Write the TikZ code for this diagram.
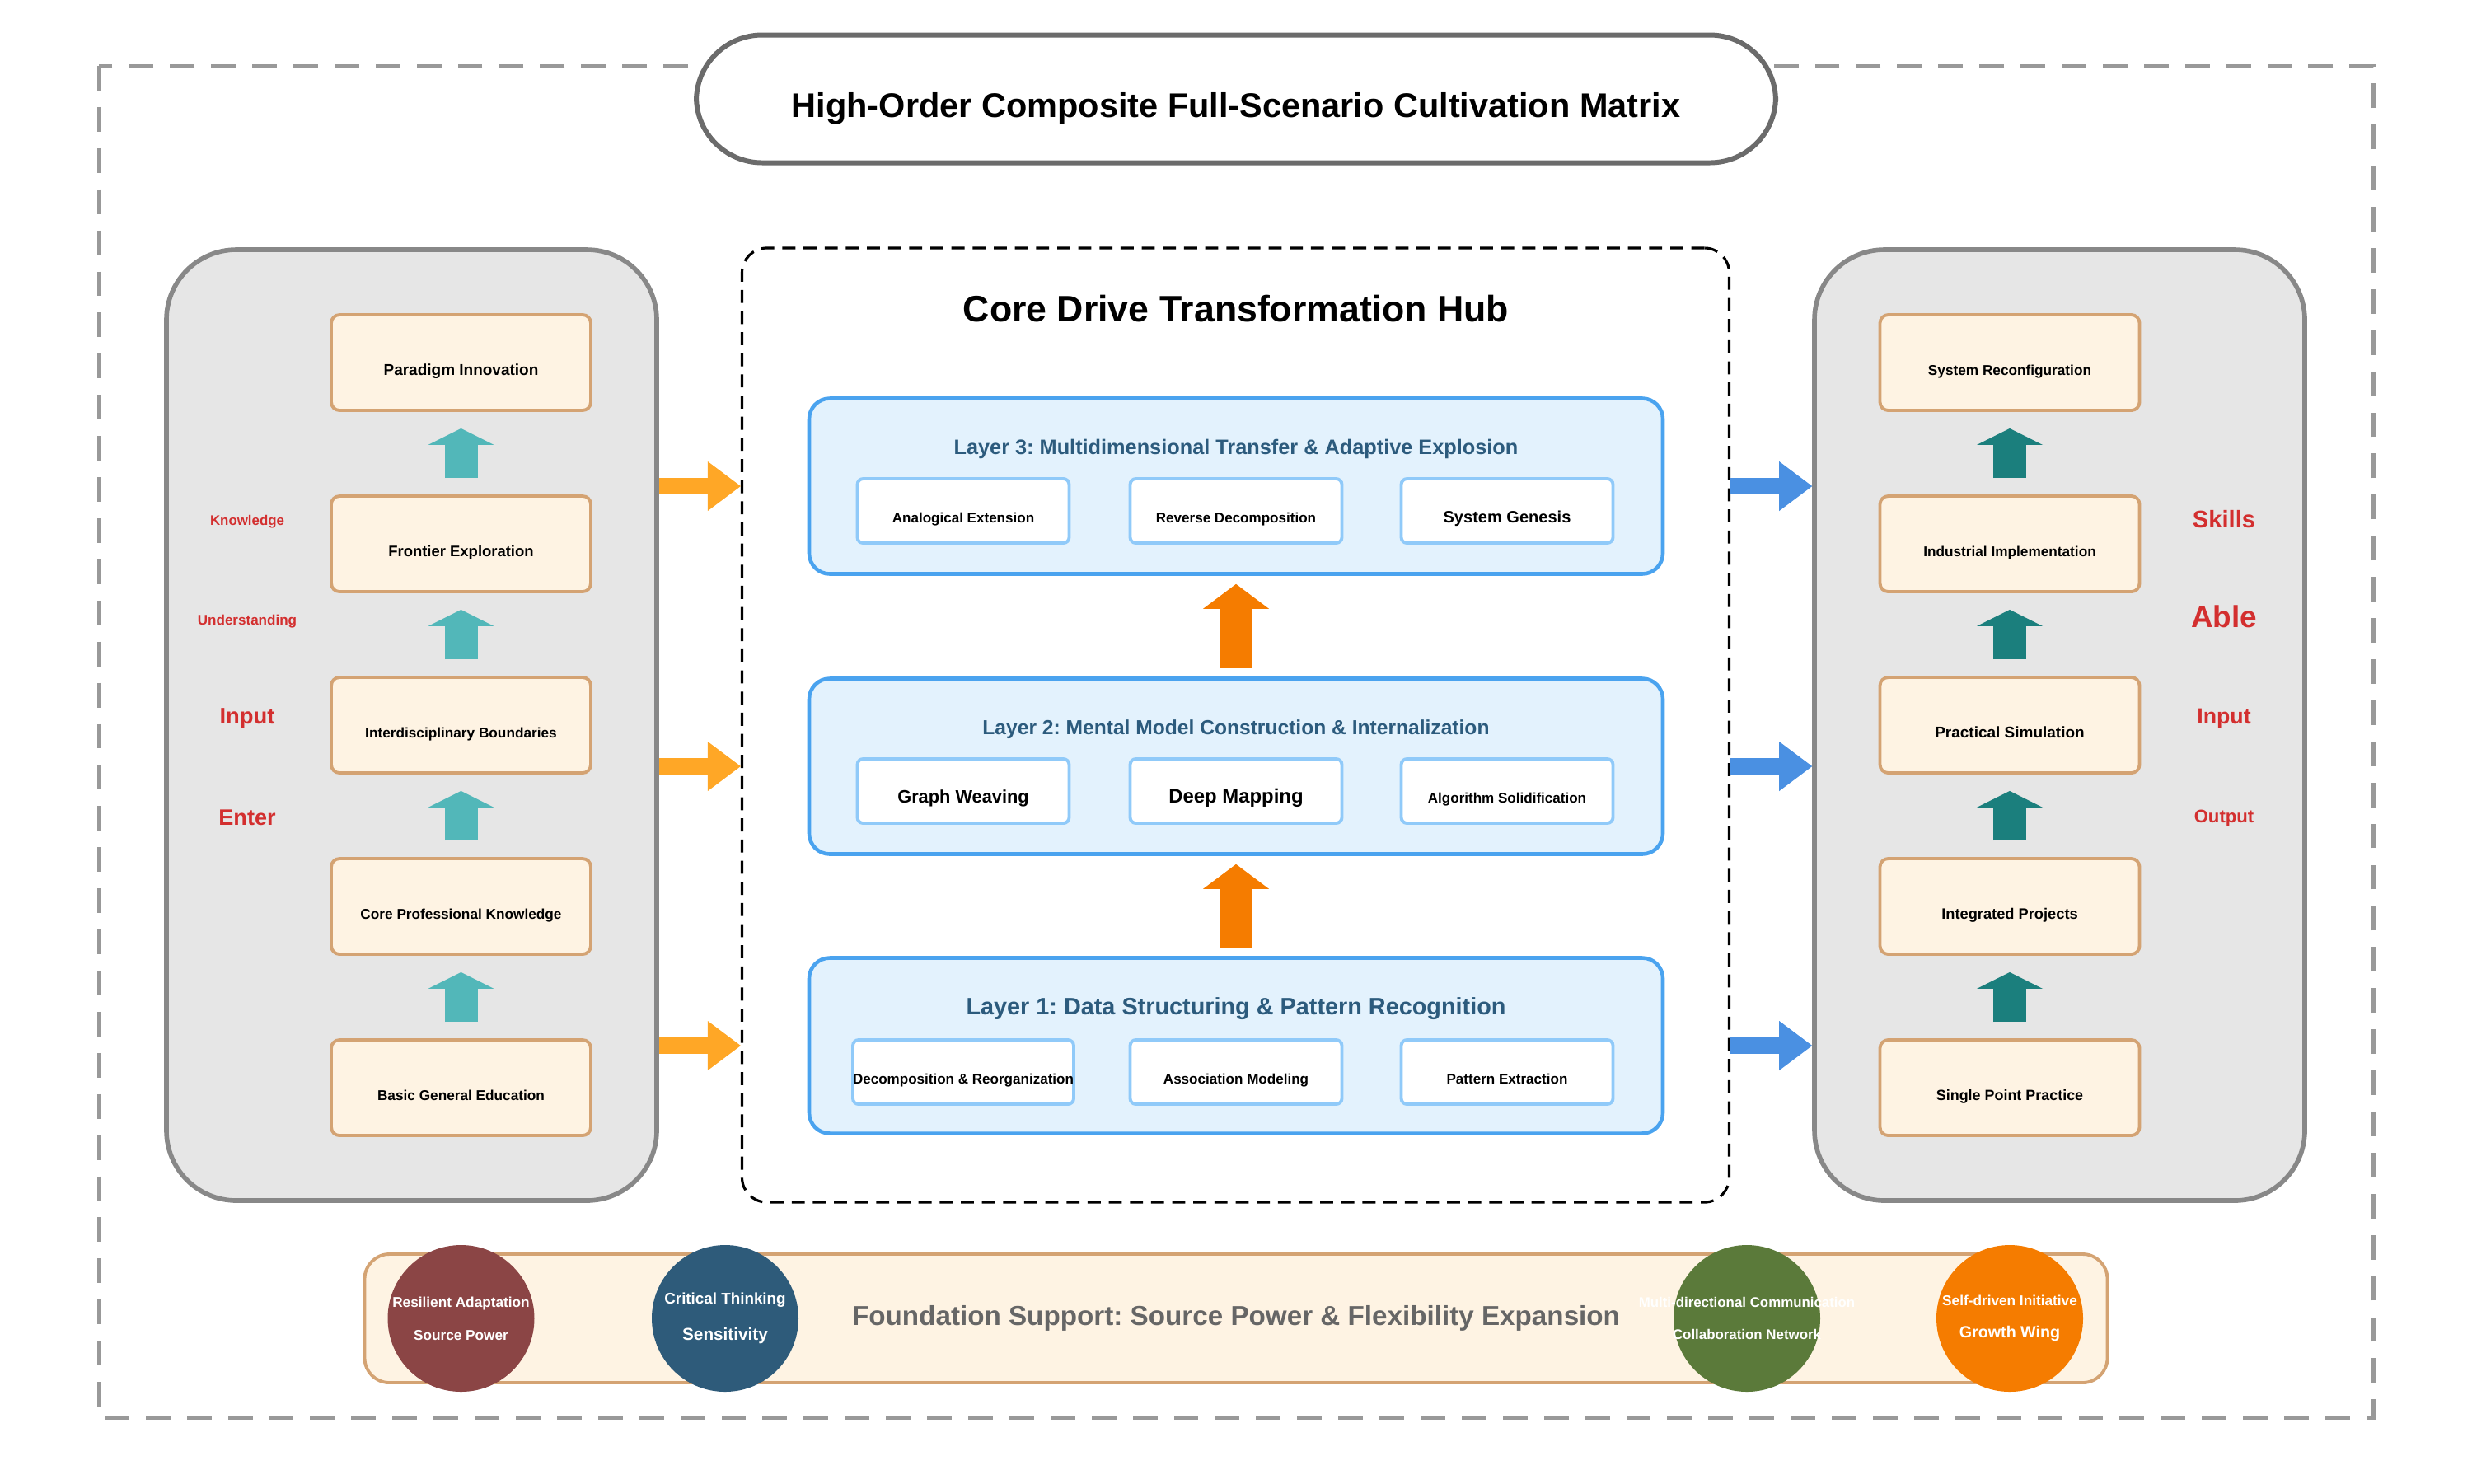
\documentclass[tikz,border=0pt]{standalone}
\usepackage{fontspec}
\setmainfont{Liberation Sans}
\usetikzlibrary{arrows.meta}
\frenchspacing

\definecolor{framegray}{HTML}{999999}
\definecolor{titlegray}{HTML}{6B6B6B}
\definecolor{panelgray}{HTML}{E6E6E6}
\definecolor{panelline}{HTML}{888888}
\definecolor{stagefill}{HTML}{FEF3E3}
\definecolor{stageline}{HTML}{D4A373}
\definecolor{layerfill}{HTML}{E3F2FD}
\definecolor{layerline}{HTML}{4AA3EF}
\definecolor{subline}{HTML}{90CAF9}
\definecolor{layertext}{HTML}{2C5B7D}
\definecolor{tagred}{HTML}{D32F2F}
\definecolor{teallight}{HTML}{52B7B9}
\definecolor{tealdark}{HTML}{1B7F7D}
\definecolor{hubarrow}{HTML}{F57C00}
\definecolor{feedorange}{HTML}{FFA726}
\definecolor{feedblue}{HTML}{4A90E2}
\definecolor{basetext}{HTML}{666666}
\definecolor{maroon}{HTML}{8B4545}
\definecolor{navy}{HTML}{2E5B7A}
\definecolor{olive}{HTML}{5B7A3A}
\definecolor{ember}{HTML}{F57C00}

\newcommand{\fsz}[1]{\fontsize{#1}{#1}\selectfont\bfseries}

\begin{document}
\begin{tikzpicture}[
  frame/.style={draw=framegray, line width=1.4pt, dash pattern=on 8.5pt off 5.7pt},
  titlebox/.style={draw=titlegray, line width=1.7pt, fill=white, rounded corners=0.8cm, minimum width=13.1cm, minimum height=1.55cm, inner sep=0pt, text height=13pt, text depth=0pt, font={\fsz{11.8}}},
  panel/.style={draw=panelline, line width=1.6pt, fill=panelgray, rounded corners=0.85cm, minimum width=5.95cm, minimum height=11.54cm},
  hub/.style={draw=black, line width=0.9pt, dash pattern=on 4.5pt off 2.8pt, rounded corners=0.3cm, minimum width=11.98cm, minimum height=11.58cm},
  stage/.style={draw=stageline, line width=1.1pt, fill=stagefill, rounded corners=0.1cm, minimum width=3.15cm, minimum height=1.16cm, inner sep=0pt, text height=9pt, text depth=0pt, font={\fsz{4.9}}},
  layer/.style={draw=layerline, line width=1.3pt, fill=layerfill, rounded corners=0.25cm, minimum width=10.36cm, minimum height=2.13cm},
  layertitle/.style={text=layertext, inner sep=0pt},
  sub/.style={draw=subline, line width=1.1pt, fill=white, rounded corners=0.07cm, minimum width=2.57cm, minimum height=0.78cm, inner sep=0pt, text height=8pt, text depth=0pt, font={\fsz{4.85}}},
  tag/.style={text=tagred, inner sep=0pt},
  base/.style={draw=stageline, line width=1.1pt, fill=stagefill, rounded corners=0.3cm, minimum width=21.15cm, minimum height=1.56cm, inner sep=0pt},
  trait/.style={circle, minimum size=1.78cm, inner sep=0pt, text=white, align=center, font={\fsz{4.9}}},
  stepup/.style={line width=0.4cm, -{Triangle[length=0.2cm, width=0.8cm, line width=0pt]}, shorten <=0.2cm, shorten >=0.2cm},
  layerup/.style={line width=0.4cm, color=hubarrow, -{Triangle[length=0.3cm, width=0.8cm, line width=0pt]}, shorten <=0.1cm, shorten >=0.1cm},
  feed/.style={line width=0.2cm, -{Triangle[length=0.4cm, width=0.6cm, line width=0pt]}}
]
\useasboundingbox (0,0) rectangle (30,-18);

% ==================== FRAME & TITLE ====================
\draw[frame] (1.2,-0.8) rectangle (28.8,-17.2);
\node[titlebox] (title) at (15,-1.2) {High-Order Composite Full-Scenario Cultivation Matrix};

% ==================== LEFT: Knowledge Ladder ====================
\node[panel] (lpanel) at (4.995,-8.8) {};

\node[stage] (l1) at (5.595,-13.2) {Basic General Education};
\node[stage] (l2) at (5.595,-11.0) {Core Professional Knowledge};
\node[stage] (l3) at (5.595,-8.8) {Interdisciplinary Boundaries};
\node[stage, font={\fsz{5.25}}] (l4) at (5.595,-6.6) {Frontier Exploration};
\node[stage, font={\fsz{5.4}}] (l5) at (5.595,-4.4) {Paradigm Innovation};

\foreach \a/\b in {1/2,2/3,3/4,4/5}
  \draw[stepup, color=teallight] (l\a.north) -- (l\b.south);

\node[tag, font={\fsz{4.8}}] (lt1) at (3.0,-6.33) {Knowledge};
\node[tag, font={\fsz{4.85}}] (lt2) at (3.0,-7.54) {Understanding};
\node[tag, font={\fsz{7.8}}] (lt3) at (3.0,-8.72) {Input};
\node[tag, font={\fsz{7.7}}] (lt4) at (3.0,-9.92) {Enter};

% ==================== CENTER: Core Drive Hub ====================
\node[hub] (hub) at (14.995,-8.8) {};
\node[font={\fsz{12.7}}, inner sep=0pt] (hubtitle) at (15,-3.75) {Core Drive Transformation Hub};

\node[layer] (lay3) at (15,-5.9) {};
\node[layertitle, font={\fsz{7.2}}] (lay3t) at (15,-5.45) {Layer 3: Multidimensional Transfer \& Adaptive Explosion};
\node[sub] (s31) at (11.69,-6.2) {Analogical Extension};
\node[sub] (s32) at (15.0,-6.2) {Reverse Decomposition};
\node[sub, font={\fsz{5.7}}] (s33) at (18.29,-6.2) {System Genesis};

\node[layer] (lay2) at (15,-9.3) {};
\node[layertitle, font={\fsz{7.0}}] (lay2t) at (15,-8.85) {Layer 2: Mental Model Construction \& Internalization};
\node[sub, font={\fsz{6.2}}] (s21) at (11.69,-9.6) {Graph Weaving};
\node[sub, font={\fsz{6.8}}] (s22) at (15.0,-9.6) {Deep Mapping};
\node[sub] (s23) at (18.29,-9.6) {Algorithm Solidification};

\node[layer] (lay1) at (15,-12.69) {};
\node[layertitle, font={\fsz{8.2}}] (lay1t) at (15,-12.24) {Layer 1: Data Structuring \& Pattern Recognition};
\node[sub] (s11) at (11.69,-13.01) {Decomposition \& Reorganization};
\node[sub] (s12) at (15.0,-13.01) {Association Modeling};
\node[sub] (s13) at (18.29,-13.01) {Pattern Extraction};

\draw[layerup] (lay1.north) -- (lay2.south);
\draw[layerup] (lay2.north) -- (lay3.south);

% ==================== RIGHT: Skills Ladder ====================
\node[panel] (rpanel) at (24.995,-8.8) {};

\node[stage, font={\fsz{5.1}}] (r1) at (24.39,-13.2) {Single Point Practice};
\node[stage, font={\fsz{5.2}}] (r2) at (24.39,-11.0) {Integrated Projects};
\node[stage, font={\fsz{5.4}}] (r3) at (24.39,-8.8) {Practical Simulation};
\node[stage] (r4) at (24.39,-6.6) {Industrial Implementation};
\node[stage] (r5) at (24.39,-4.4) {System Reconfiguration};

\foreach \a/\b in {1/2,2/3,3/4,4/5}
  \draw[stepup, color=tealdark] (r\a.north) -- (r\b.south);

\node[tag, font={\fsz{8.3}}] (rt1) at (26.99,-6.3) {Skills};
\node[tag, font={\fsz{10.5}}] (rt2) at (26.99,-7.48) {Able};
\node[tag, font={\fsz{7.6}}] (rt3) at (26.99,-8.72) {Input};
\node[tag, font={\fsz{6.3}}] (rt4) at (26.99,-9.93) {Output};

% ==================== FEEDS ====================
\foreach \n in {1,2,3} {
  \draw[feed, color=feedorange] (lpanel.east |- lay\n) -- (hub.west |- lay\n);
  \draw[feed, color=feedblue] (hub.east |- lay\n) -- (rpanel.west |- lay\n);
}

% ==================== BOTTOM: Foundation Support ====================
\node[base] (base) at (15,-16.0) {};
\node[text=basetext, font={\fsz{9.45}}, inner sep=0pt] (basetitle) at (15,-16.0) {Foundation Support: Source Power \& Flexibility Expansion};

\node[trait, fill=maroon] (c1) at (5.595,-16.0) {Resilient Adaptation\\[6.5pt]Source Power};
\node[trait, fill=navy, font={\fsz{5.35}}] (c2) at (8.8,-16.0) {Critical Thinking\\[6pt]{\fsz{5.9}Sensitivity}};
\node[trait, fill=olive, font={\fsz{4.8}}] (c3) at (21.2,-16.0) {\makebox[0pt]{Multi-directional Communication}\\[6.5pt]\makebox[0pt]{Collaboration Network}};
\node[trait, fill=ember] (c4) at (24.39,-16.0) {Self-driven Initiative\\[6.3pt]{\fsz{5.6}Growth Wing}};

\end{tikzpicture}
\end{document}
